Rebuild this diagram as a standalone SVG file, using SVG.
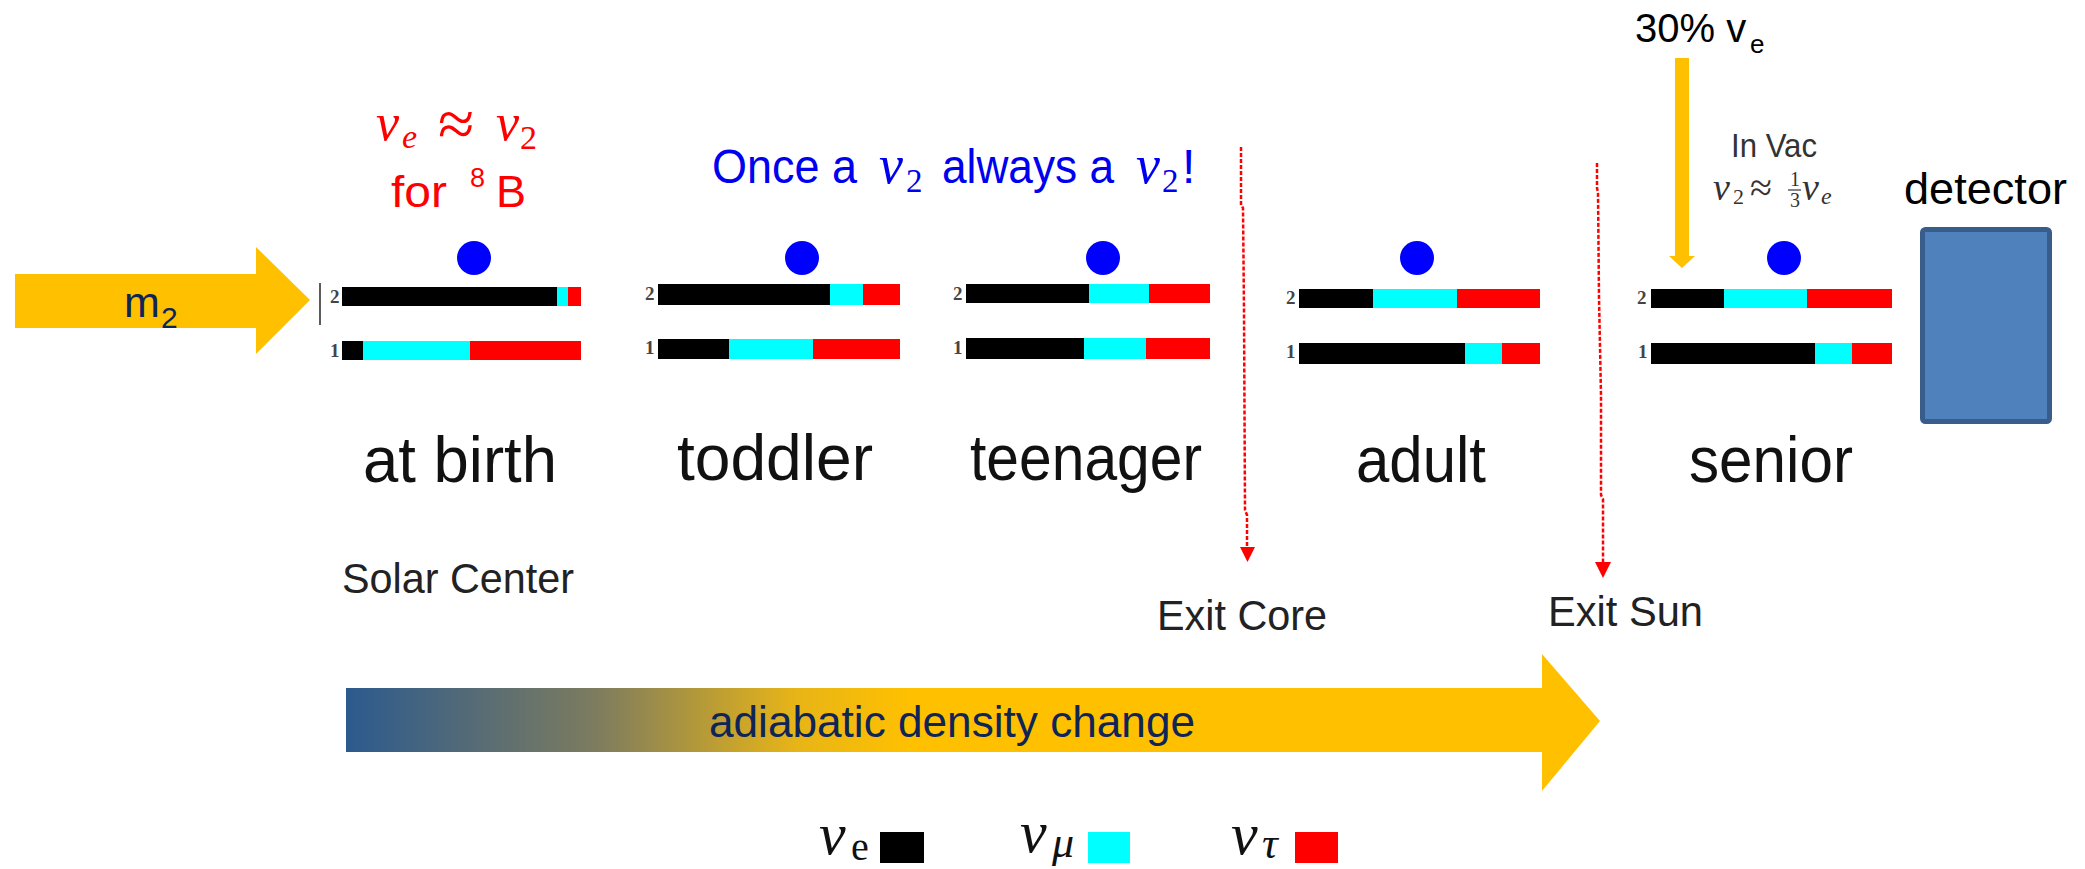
<svg xmlns="http://www.w3.org/2000/svg" width="2085" height="869" viewBox="0 0 2085 869">
<defs>
<linearGradient id="grad" x1="346" y1="0" x2="1600" y2="0" gradientUnits="userSpaceOnUse">
<stop offset="0" stop-color="#2C5A8E"/>
<stop offset="0.2" stop-color="#7D7C5E"/>
<stop offset="0.36" stop-color="#E8B517"/>
<stop offset="0.45" stop-color="#FFC000"/>
<stop offset="1" stop-color="#FFC000"/>
</linearGradient>
<style>
.sans{font-family:"Liberation Sans",Arial,sans-serif}
.stage{font-size:64px;fill:#111}
.small{font-size:42px;fill:#222}
.num{font-family:"Liberation Serif","Times New Roman",serif;font-size:19px;font-weight:bold;fill:#444}
.math{font-family:"Liberation Serif","Times New Roman",serif;font-style:italic}
.up{font-family:"Liberation Serif","Times New Roman",serif}
.k{fill:#000}.c{fill:#00FFFF}.r{fill:#FF0000}
.dot{fill:#0000FF}
.dash{fill:none;stroke:#FF0000;stroke-width:2.5;stroke-dasharray:4 2}
.head{fill:#FF0000}
.navy{fill:#0F2557}
.blue{fill:#0000F0}
.red{fill:#FF0000}
.gray{fill:#333}
</style>
</defs>
<rect width="2085" height="869" fill="#fff"/>

<g id="m2-arrow">
<polygon points="15,274 256,274 256,247 310,300 256,354 256,328 15,328" fill="#FFC000"/>
<text class="sans navy" x="124" y="317" font-size="43">m</text>
<text class="sans navy" x="161" y="328" font-size="30">2</text>
</g>

<g id="birth-note">
<text class="math red" x="376" y="140" font-size="52">ν</text>
<text class="math red" x="402" y="148" font-size="34">e</text>
<text class="up red" x="438" y="146" font-size="66">≈</text>
<text class="math red" x="496" y="140" font-size="52">ν</text>
<text class="up red" x="520" y="149" font-size="34">2</text>
<text class="sans red" x="391" y="207" font-size="45" textLength="56" lengthAdjust="spacingAndGlyphs">for</text>
<text class="sans red" x="470" y="187" font-size="27">8</text>
<text class="sans red" x="496" y="207" font-size="45">B</text>
</g>

<g id="once-note">
<text class="sans blue" x="712" y="183" font-size="48" textLength="145" lengthAdjust="spacingAndGlyphs">Once a</text>
<text class="math blue" x="879" y="183" font-size="54">ν</text>
<text class="up blue" x="906" y="192" font-size="33">2</text>
<text class="sans blue" x="942" y="183" font-size="48" textLength="172" lengthAdjust="spacingAndGlyphs">always a</text>
<text class="math blue" x="1136" y="183" font-size="54">ν</text>
<text class="up blue" x="1162" y="192" font-size="33">2</text>
<text class="sans blue" x="1182" y="183" font-size="48">!</text>
</g>

<g id="stage-birth">
<line x1="320" y1="283" x2="320" y2="325" stroke="#333" stroke-width="1.6"/>
<circle class="dot" cx="474" cy="258" r="17"/>
<text class="num" x="330" y="303">2</text>
<rect class="k" x="342" y="287" width="215" height="19"/>
<rect class="c" x="557" y="287" width="11" height="19"/>
<rect class="r" x="568" y="287" width="13" height="19"/>
<text class="num" x="330" y="357">1</text>
<rect class="k" x="342" y="341" width="21" height="19"/>
<rect class="c" x="363" y="341" width="107" height="19"/>
<rect class="r" x="470" y="341" width="111" height="19"/>
<text class="sans stage" x="363" y="482" textLength="194" lengthAdjust="spacingAndGlyphs">at birth</text>
<text class="sans small" x="342" y="593" textLength="232" lengthAdjust="spacingAndGlyphs">Solar Center</text>
</g>

<g id="stage-toddler">
<circle class="dot" cx="802" cy="258" r="17"/>
<text class="num" x="645" y="300">2</text>
<rect class="k" x="658" y="284" width="172" height="21"/>
<rect class="c" x="830" y="284" width="33" height="21"/>
<rect class="r" x="863" y="284" width="37" height="21"/>
<text class="num" x="645" y="354">1</text>
<rect class="k" x="658" y="339" width="71" height="20"/>
<rect class="c" x="729" y="339" width="84" height="20"/>
<rect class="r" x="813" y="339" width="87" height="20"/>
<text class="sans stage" x="677" y="480" textLength="196" lengthAdjust="spacingAndGlyphs">toddler</text>
</g>

<g id="stage-teenager">
<circle class="dot" cx="1103" cy="258" r="17"/>
<text class="num" x="953" y="300">2</text>
<rect class="k" x="966" y="284" width="123" height="19"/>
<rect class="c" x="1089" y="284" width="60" height="19"/>
<rect class="r" x="1149" y="284" width="61" height="19"/>
<text class="num" x="953" y="354">1</text>
<rect class="k" x="966" y="338" width="118" height="21"/>
<rect class="c" x="1084" y="338" width="62" height="21"/>
<rect class="r" x="1146" y="338" width="64" height="21"/>
<text class="sans stage" x="970" y="480" textLength="232" lengthAdjust="spacingAndGlyphs">teenager</text>
</g>

<g id="stage-adult">
<circle class="dot" cx="1417" cy="258" r="17"/>
<text class="num" x="1286" y="304">2</text>
<rect class="k" x="1299" y="289" width="74" height="19"/>
<rect class="c" x="1373" y="289" width="84" height="19"/>
<rect class="r" x="1457" y="289" width="83" height="19"/>
<text class="num" x="1286" y="358">1</text>
<rect class="k" x="1299" y="343" width="166" height="21"/>
<rect class="c" x="1465" y="343" width="37" height="21"/>
<rect class="r" x="1502" y="343" width="38" height="21"/>
<text class="sans stage" x="1356" y="482" textLength="130" lengthAdjust="spacingAndGlyphs">adult</text>
</g>

<g id="stage-senior">
<circle class="dot" cx="1784" cy="258" r="17"/>
<text class="num" x="1637" y="304">2</text>
<rect class="k" x="1651" y="289" width="73" height="19"/>
<rect class="c" x="1724" y="289" width="83" height="19"/>
<rect class="r" x="1807" y="289" width="85" height="19"/>
<text class="num" x="1638" y="358">1</text>
<rect class="k" x="1651" y="343" width="164" height="21"/>
<rect class="c" x="1815" y="343" width="37" height="21"/>
<rect class="r" x="1852" y="343" width="40" height="21"/>
<text class="sans stage" x="1689" y="482" textLength="164" lengthAdjust="spacingAndGlyphs">senior</text>
</g>

<g id="vacuum-note">
<text class="sans gray" x="1731" y="157" font-size="33" textLength="86" lengthAdjust="spacingAndGlyphs">In Vac</text>
<text class="math gray" x="1713" y="200" font-size="38">ν</text>
<text class="up gray" x="1733" y="204" font-size="22">2</text>
<text class="up gray" x="1750" y="201" font-size="40">≈</text>
<text class="up gray" font-size="20"><tspan x="1790" y="186">1</tspan><tspan x="1790" y="207">3</tspan></text>
<line x1="1788" y1="190" x2="1801" y2="190" stroke="#333" stroke-width="1.2"/>
<text class="math gray" x="1802" y="200" font-size="38">ν</text>
<text class="math gray" x="1821" y="204" font-size="24">e</text>
</g>

<g id="vacuum-arrow">
<text class="sans" x="1635" y="42" font-size="40" fill="#000">30% v</text>
<text class="sans" x="1750" y="53" font-size="26" fill="#000">e</text>
<polygon points="1675,58 1689,58 1689,256 1695,256 1682,268 1669,256 1675,256" fill="#FFC000"/>
</g>

<g id="detector">
<text class="sans" x="1904" y="204" font-size="45" fill="#000" textLength="163" lengthAdjust="spacingAndGlyphs">detector</text>
<rect x="1922.5" y="229.5" width="127" height="192" rx="3" fill="#4F81BD" stroke="#385D8A" stroke-width="5"/>
</g>

<g id="connectors">
<polyline class="dash" points="1241,147 1241,205 1243,208 1244,310 1245,510 1247,515 1247,550"/>
<polygon class="head" points="1240,547 1255,547 1247.5,562"/>
<text class="sans small" x="1157" y="630" textLength="170" lengthAdjust="spacingAndGlyphs">Exit Core</text>
<polyline class="dash" points="1597,163 1597,188 1598,192 1599,297 1601,395 1601,495 1603,499 1603,566"/>
<polygon class="head" points="1595,562 1611,562 1603,578"/>
<text class="sans small" x="1548" y="626" textLength="155" lengthAdjust="spacingAndGlyphs">Exit Sun</text>
</g>

<g id="density-arrow">
<polygon points="346,688 1542,688 1542,654 1600,721 1542,791 1542,752 346,752" fill="url(#grad)"/>
<text class="sans navy" x="709" y="737" font-size="44" textLength="486" lengthAdjust="spacingAndGlyphs">adiabatic density change</text>
</g>

<g id="legend">
<text class="math" x="819" y="854" font-size="60" fill="#111">ν</text>
<text class="up" x="851" y="860" font-size="40" fill="#111">e</text>
<rect x="880" y="832" width="44" height="31" fill="#000"/>
<text class="math" x="1020" y="852" font-size="60" fill="#111">ν</text>
<text class="math" x="1052" y="857" font-size="44" fill="#111">μ</text>
<rect x="1088" y="832" width="42" height="31" fill="#00FFFF"/>
<text class="math" x="1231" y="854" font-size="60" fill="#111">ν</text>
<text class="math" x="1262" y="858" font-size="44" fill="#111">τ</text>
<rect x="1295" y="832" width="43" height="31" fill="#FF0000"/>
</g>
</svg>
